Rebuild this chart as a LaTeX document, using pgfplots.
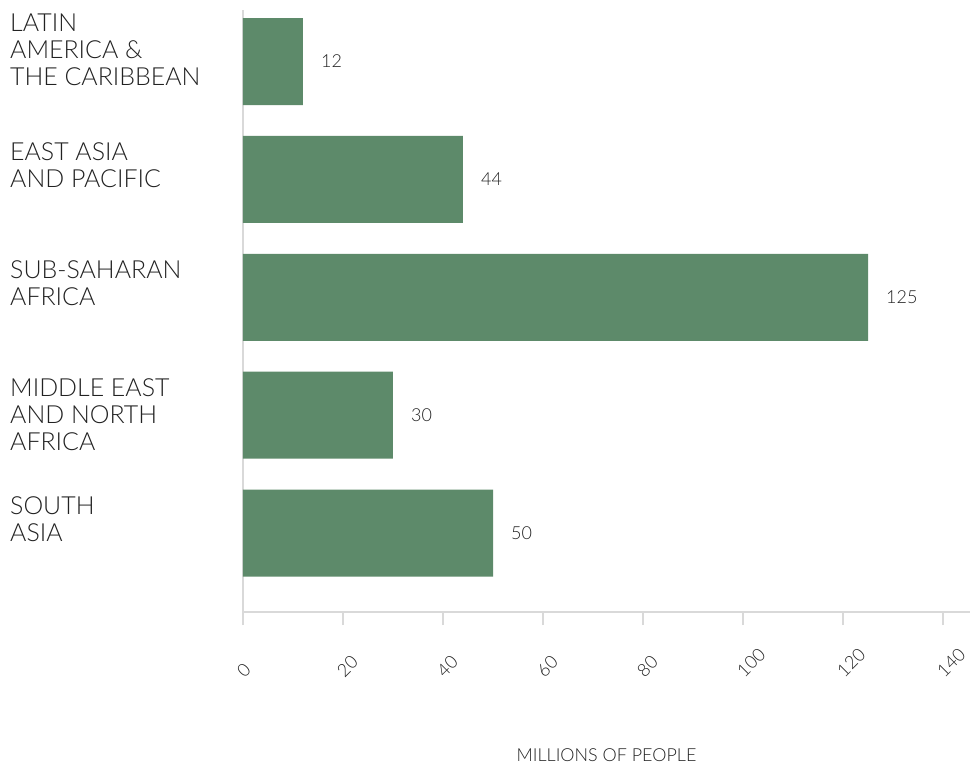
\documentclass[border=0pt]{standalone}
\usepackage{pgfplots}
\pgfplotsset{compat=1.18}
\usepackage{fontspec}
\setmainfont{Lato}[UprightFont=* Light]
\definecolor{barcol}{RGB}{93,138,106}
\definecolor{axcol}{RGB}{217,217,217}
\definecolor{txt}{RGB}{34,34,34}

\begin{document}
\begin{tikzpicture}
\begin{axis}[
    scale only axis,
    width=727bp, height=602bp,
    xbar, bar width=0.738,
    xmin=0, xmax=145.4,
    ymin=-0.669, ymax=4.437,
    axis x line=bottom, axis y line=left,
    axis line style={-, axcol, line width=1.3bp},
    xtick={0,20,...,140},
    ytick={0,...,3},
    yticklabels={{SOUTH\\ASIA},{MIDDLE EAST\\AND NORTH\\AFRICA},{SUB-SAHARAN\\AFRICA},{EAST ASIA\\AND PACIFIC}},
    extra y ticks={4},
    extra y tick labels={{LATIN\\AMERICA \&\\THE CARIBBEAN}},
    extra y tick style={yticklabel style={yshift=11bp}},
    y tick style={draw=none},
    x tick style={axcol, line width=1.3bp},
    tick align=outside, major tick length=13bp,
    /pgf/number format/assume math mode=true,
    yticklabel style={anchor=north west, inner sep=0pt, xshift=-220bp, yshift=37bp,
        align=left, font=\fontsize{25}{27}\selectfont, text=txt},
    xticklabel style={xshift=-3bp, yshift=-49bp, rotate=45, anchor=west, inner sep=0pt,
        font=\fontsize{18}{21}\selectfont, text=txt},
    xlabel={MILLIONS OF PEOPLE},
    xlabel style={at={(axis description cs:0.5,0)}, anchor=center, yshift=-143bp,
        font=\fontsize{18}{20}\selectfont, text=txt},
    point meta=x,
    nodes near coords,
    nodes near coords align=horizontal,
    every node near coord/.append style={anchor=west, inner sep=0pt, xshift=18bp,
        font=\fontsize{18}{20}\selectfont, text=txt},
]
\addplot[draw=none, fill=barcol] coordinates {(12,4) (44,3) (125,2) (30,1) (50,0)};
\end{axis}
\pgfresetboundingbox
\path[use as bounding box] ([xshift=-243bp,yshift=-153bp]current axis.south west) rectangle ([yshift=10bp]current axis.north east);
\end{tikzpicture}
\end{document}
